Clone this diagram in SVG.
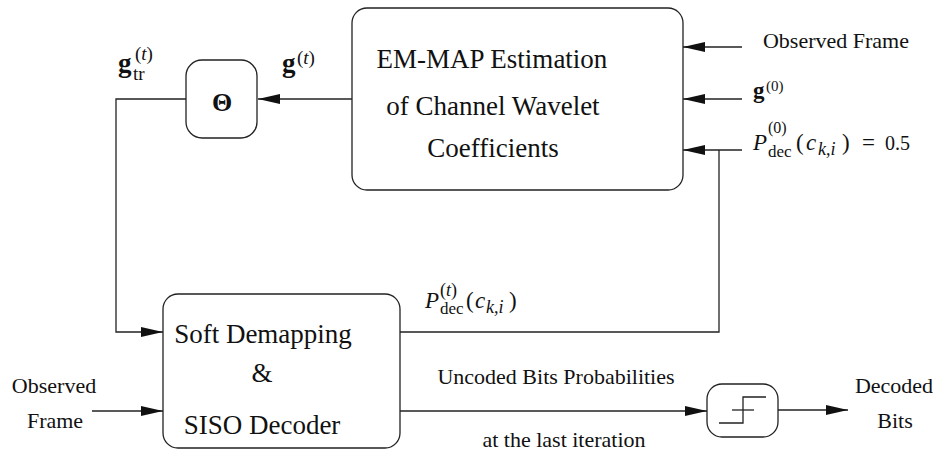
<svg xmlns="http://www.w3.org/2000/svg" width="940" height="458" viewBox="0 0 940 458">
<style>
.box{fill:#fff;stroke:#222;stroke-width:1.3}
.ln{fill:none;stroke:#222;stroke-width:1.3}
.arr{fill:none;stroke:#222;stroke-width:1.3;marker-end:url(#ah)}
</style>
<defs>
<marker id="ah" markerUnits="userSpaceOnUse" markerWidth="22" markerHeight="10" refX="22" refY="5" orient="auto">
<path d="M0,0 L22,5 L0,10 Z" fill="#111"/>
</marker>
</defs>
<rect width="940" height="458" fill="#fff"/>

<g id="connectors">
<path class="arr" d="M352,99 H258"/>
<path class="arr" d="M186,99 H116 V332 H163"/>
<path class="ln" d="M400,332 H719 V150"/>
<path class="arr" d="M742,47 H683"/>
<path class="arr" d="M742,99 H683"/>
<path class="arr" d="M742,150 H683"/>
<path class="arr" d="M92,411 H163"/>
<path class="arr" d="M400,411 H707"/>
<path class="arr" d="M778,410 H848"/>
</g>

<g id="node-em">
<rect class="box" x="352" y="8" width="331" height="182" rx="15"/>
<text x="492" y="68" fill="#111" font-family="Liberation Serif" font-size="27" text-anchor="middle">EM-MAP Estimation</text>
<text x="493" y="115" fill="#111" font-family="Liberation Serif" font-size="27" text-anchor="middle">of Channel Wavelet</text>
<text x="493" y="157" fill="#111" font-family="Liberation Serif" font-size="27" text-anchor="middle">Coefficients</text>
</g>

<g id="node-theta">
<rect class="box" x="186" y="60" width="71" height="78" rx="16"/>
<text x="222" y="111" fill="#111" font-family="Liberation Serif" font-size="26" font-weight="bold" text-anchor="middle">Θ</text>
</g>

<g id="node-soft">
<rect class="box" x="163" y="294" width="237" height="154" rx="15"/>
<text x="263" y="343" fill="#111" font-family="Liberation Serif" font-size="27" text-anchor="middle">Soft Demapping</text>
<text x="262" y="382" fill="#111" font-family="Liberation Serif" font-size="27" text-anchor="middle">&amp;</text>
<text x="262" y="434" fill="#111" font-family="Liberation Serif" font-size="27" text-anchor="middle">SISO Decoder</text>
</g>

<g id="node-thresh">
<rect class="box" x="707" y="384" width="71" height="53" rx="15"/>
<polyline class="ln" points="719,423 743,423 743,397 766,397"/>
<line class="ln" x1="732" y1="410" x2="754" y2="410"/>
</g>

<g id="labels">
<text x="836" y="48" fill="#111" font-family="Liberation Serif" font-size="22" text-anchor="middle">Observed Frame</text>

<text x="753" y="98" fill="#111" font-family="Liberation Serif" font-size="23" font-weight="bold">g</text>
<text x="766" y="91" fill="#111" font-family="Liberation Serif" font-size="15">(0)</text>

<text x="753" y="150" fill="#111" font-family="Liberation Serif" font-size="23" font-style="italic">P</text>
<text x="768" y="133" fill="#111" font-family="Liberation Serif" font-size="16">(0)</text>
<text x="768" y="157" fill="#111" font-family="Liberation Serif" font-size="17">dec</text>
<text x="796" y="150" fill="#111" font-family="Liberation Serif" font-size="23">(</text>
<text x="806" y="150" fill="#111" font-family="Liberation Serif" font-size="23" font-style="italic">c</text>
<text x="818" y="155" fill="#111" font-family="Liberation Serif" font-size="18" font-style="italic">k,i</text>
<text x="842" y="150" fill="#111" font-family="Liberation Serif" font-size="23">)</text>
<text x="862" y="150" fill="#111" font-family="Liberation Serif" font-size="23">=</text>
<text x="885" y="150" fill="#111" font-family="Liberation Serif" font-size="20">0.5</text>

<text x="282" y="72" fill="#111" font-family="Liberation Serif" font-size="27" font-weight="bold">g</text>
<text x="297" y="64" fill="#111" font-family="Liberation Serif" font-size="19">(<tspan font-style="italic">t</tspan>)</text>

<text x="118" y="72" fill="#111" font-family="Liberation Serif" font-size="27" font-weight="bold">g</text>
<text x="133" y="80" fill="#111" font-family="Liberation Serif" font-size="19">tr</text>
<text x="135" y="60" fill="#111" font-family="Liberation Serif" font-size="19">(<tspan font-style="italic">t</tspan>)</text>

<text x="425" y="308" fill="#111" font-family="Liberation Serif" font-size="23" font-style="italic">P</text>
<text x="440" y="296" fill="#111" font-family="Liberation Serif" font-size="18">(<tspan font-style="italic">t</tspan>)</text>
<text x="440" y="314" fill="#111" font-family="Liberation Serif" font-size="17">dec</text>
<text x="466" y="308" fill="#111" font-family="Liberation Serif" font-size="23">(</text>
<text x="475" y="308" fill="#111" font-family="Liberation Serif" font-size="23" font-style="italic">c</text>
<text x="486" y="313" fill="#111" font-family="Liberation Serif" font-size="18" font-style="italic">k,i</text>
<text x="509" y="308" fill="#111" font-family="Liberation Serif" font-size="23">)</text>

<text x="556" y="384" fill="#111" font-family="Liberation Serif" font-size="22" text-anchor="middle">Uncoded Bits Probabilities</text>
<text x="564" y="447" fill="#111" font-family="Liberation Serif" font-size="22" text-anchor="middle">at the last iteration</text>

<text x="54" y="393" fill="#111" font-family="Liberation Serif" font-size="22" text-anchor="middle">Observed</text>
<text x="55" y="428" fill="#111" font-family="Liberation Serif" font-size="22" text-anchor="middle">Frame</text>

<text x="894" y="393" fill="#111" font-family="Liberation Serif" font-size="22" text-anchor="middle">Decoded</text>
<text x="895" y="428" fill="#111" font-family="Liberation Serif" font-size="22" text-anchor="middle">Bits</text>
</g>
</svg>
